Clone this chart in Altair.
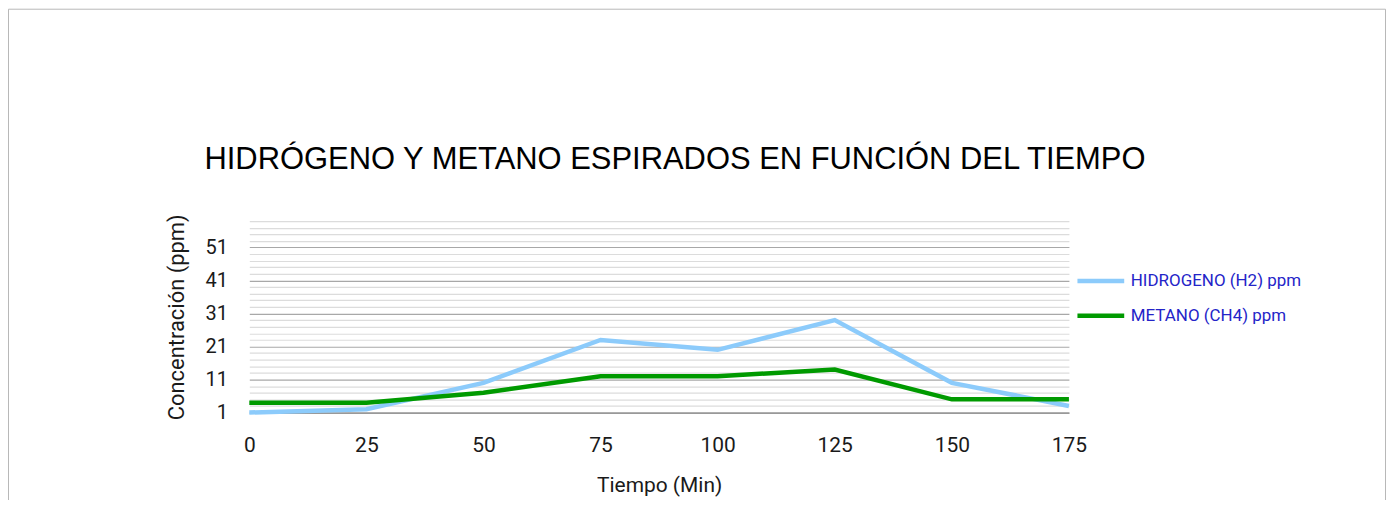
import altair as alt
import pandas as pd

tiempo = [0, 25, 50, 75, 100, 125, 150, 175]
hidrogeno = [1, 2, 10, 23, 20, 29, 10, 3]
metano = [4, 4, 7, 12, 12, 14, 5, 5]
series = ["HIDROGENO (H2) ppm", "METANO (CH4) ppm"]
colors = ["#8ccbfb", "#009a00"]
titulo = "HIDRÓGENO Y METANO ESPIRADOS EN FUNCIÓN DEL TIEMPO"

rows = []
for t, h, m in zip(tiempo, hidrogeno, metano):
    rows.append({"t": t, "v": h, "s": series[0]})
    rows.append({"t": t, "v": m, "s": series[1]})
df = pd.DataFrame(rows)

grid_vals = list(range(1, 60, 2))

lines = alt.Chart(df).mark_line(strokeWidth=4.5, strokeCap="butt", strokeJoin="miter").encode(
    x=alt.X("t:Q", scale=alt.Scale(domain=[0, 175], nice=False),
            axis=alt.Axis(values=tiempo, title="Tiempo (Min)", grid=False, ticks=False,
                          labelFlush=False,
                          domainColor="#8c8c8c", domainWidth=1.3,
                          labelFontSize=21, labelPadding=22, labelFont="Roboto",
                          labelColor="#1a1a1a", titleFont="Roboto", titleFontSize=21,
                          titleFontWeight="normal", titleColor="#1a1a1a", titlePadding=19)),
    y=alt.Y("v:Q", scale=alt.Scale(domain=[1, 59], nice=False, zero=False),
            axis=alt.Axis(values=grid_vals, title="Concentración (ppm)",
                          labelExpr="(datum.value - 1) % 10 == 0 ? datum.label : ''",
                          ticks=False, domain=False,
                          gridColor={"condition": {"test": "(datum.value - 1) % 10 == 0", "value": "#a8a8a8"}, "value": "#dcdcdc"},
                          gridWidth=1.2,
                          labelFontSize=20, labelPadding=22, labelFont="Roboto",
                          labelColor="#1a1a1a", titleFont="Roboto", titleFontSize=22,
                          titleFontWeight="normal", titleColor="#1a1a1a", titlePadding=17)),
    color=alt.Color("s:N", scale=alt.Scale(domain=series, range=colors),
                    legend=alt.Legend(title=None, orient="none", legendX=828, legendY=34,
                                      symbolType="stroke", symbolSize=2200, symbolStrokeWidth=4.5,
                                      labelFont="Roboto", labelFontSize=17, labelColor="#2424c8",
                                      labelOffset=4, labelLimit=400, rowPadding=-14)),
)

border = alt.Chart(alt.Data(values=[{}])).mark_rect(fill=None, stroke="#b8b8b8", strokeWidth=1).encode(
    x=alt.value(-241.5), x2=alt.value(1139.5), y=alt.value(-212.5), y2=alt.value(400)
)

title = alt.Chart(alt.Data(values=[{"t": titulo}])).mark_text(
    align="left", baseline="alphabetic", font="Liberation Sans", fontSize=31, color="#000000"
).encode(text="t:N", x=alt.value(-45), y=alt.value(-52))

chart = alt.layer(border, title, lines).properties(
    width=822, height=192,
    autosize=alt.AutoSizeParams(type="none"),
    padding={"left": 242, "top": 213, "right": 318, "bottom": 87},
).configure_view(stroke=None)

chart.save("out.html", embed_options={"renderer": "svg", "actions": False})
